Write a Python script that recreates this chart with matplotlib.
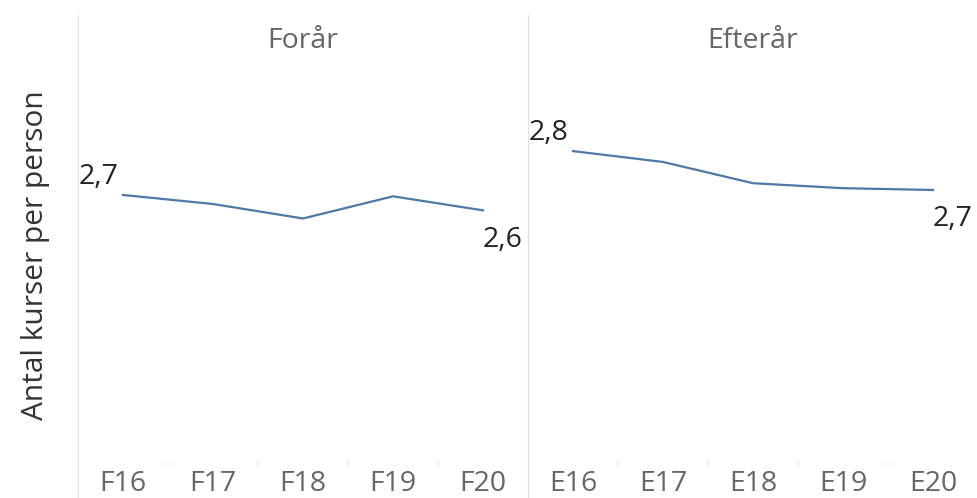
import numpy as np
from matplotlib import pyplot as plt
from matplotlib.lines import Line2D

plt.rcParams['font.family'] = ['Open Sans', 'DejaVu Sans']

# values
spring_labels = ['F16', 'F17', 'F18', 'F19', 'F20']
spring_values = [2.666, 2.646, 2.614, 2.663, 2.632]
autumn_labels = ['E16', 'E17', 'E18', 'E19', 'E20']
autumn_values = [2.763, 2.739, 2.692, 2.681, 2.677]
panel_titles = ['Forår', 'Efterår']

W, H = 978, 498
fig = plt.figure(figsize=(W / 100, H / 100), dpi=100)

line_color = '#4e79a7'
grid_color = '#e2e2e2'
ax_top, ax_bottom = 62, 460
panels = [(78, spring_labels, spring_values), (528, autumn_labels, autumn_values)]

for i, (left, labels, values) in enumerate(panels):
    ax = fig.add_axes([left / W, 1 - ax_bottom / H, 450 / W, (ax_bottom - ax_top) / H])
    x = np.arange(len(labels))
    ax.plot(x, values, color=line_color, lw=1.6, solid_joinstyle='round')
    ax.set_xlim(-0.5, len(labels) - 0.5)
    ax.set_ylim(2.08, 2.96)
    ax.set_xticks(x)
    ax.set_xticklabels(labels, fontsize=20.5, color='#666666')
    ax.set_xticks(np.arange(0.5, len(labels) - 1, 1), minor=True)
    ax.tick_params(axis='x', which='major', length=0, pad=7)
    ax.tick_params(axis='x', which='minor', length=5, color='#f3f3f3', width=1.5)
    ax.set_yticks([])
    for s in ax.spines.values():
        s.set_visible(False)
    ax.set_title(panel_titles[i], fontsize=20.5, color='#666666', y=1.0, pad=10)

    fmt = lambda v: '{:.1f}'.format(v).replace('.', ',')
    ax.annotate(fmt(values[0]), (x[0], values[0]), xytext=(-3, 3),
                textcoords='offset points', ha='right', va='bottom',
                fontsize=20.5, color='#222222')
    ax.annotate(fmt(values[-1]), (x[-1], values[-1]), xytext=(0, -11),
                textcoords='offset points', ha='left', va='top',
                fontsize=20.5, color='#222222')

# pane borders
for xpx in [78, 528]:
    fig.add_artist(Line2D([xpx / W, xpx / W], [0, 1 - 15 / H],
                          transform=fig.transFigure, color=grid_color, lw=1))

fig.text(36 / W, 0.5 - 6 / H, 'Antal kurser per person', rotation=90,
         ha='center', va='center', fontsize=21.5, color='#333333')

fig.savefig('out.png', dpi=100, facecolor='white')
